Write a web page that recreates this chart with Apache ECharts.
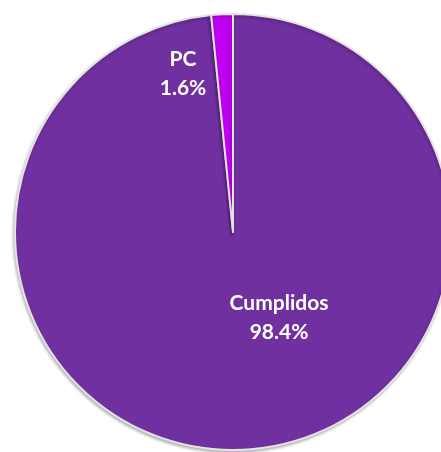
<!DOCTYPE html>
<html>
<head>
<meta charset="utf-8">
<script src="https://cdn.jsdelivr.net/npm/echarts@6/dist/echarts.min.js"></script>
<style>html,body{margin:0;padding:0;background:#fff;}#c{width:441px;height:452px;}</style>
</head>
<body>
<div id="c"></div>
<script>
var categories = ['Cumplidos', 'PC'];
var values = [98.4, 1.6];
var colors = ['#7030A0', '#C000F0'];

var chart = echarts.init(document.getElementById('c'));
var labelPos = { 'Cumplidos': [279, 318], 'PC': [183, 74] };
chart.setOption({
  animation: false,
  series: [{
    type: 'pie',
    center: [233, 232],
    radius: [0, 218],
    startAngle: 90,
    clockwise: true,
    data: categories.map(function (c, i) {
      return { name: c, value: values[i], itemStyle: { color: colors[i] } };
    }),
    itemStyle: {
      borderColor: '#e4e4e4',
      borderWidth: 2,
      shadowColor: 'rgba(0,0,0,0.25)',
      shadowBlur: 3,
      shadowOffsetX: -1,
      shadowOffsetY: 2
    },
    label: {
      show: true,
      position: 'inside',
      formatter: function (p) { return p.name + '\n' + p.value.toFixed(1) + '%'; },
      color: '#ffffff',
      fontFamily: 'Lato',
      fontWeight: 'bold',
      fontSize: 21,
      lineHeight: 29,
      align: 'center'
    },
    labelLine: { show: false },
    labelLayout: function (params) {
      var n = categories[params.dataIndex];
      return { x: labelPos[n][0], y: labelPos[n][1], align: 'center', verticalAlign: 'middle' };
    }
  }]
});
</script>
</body>
</html>
